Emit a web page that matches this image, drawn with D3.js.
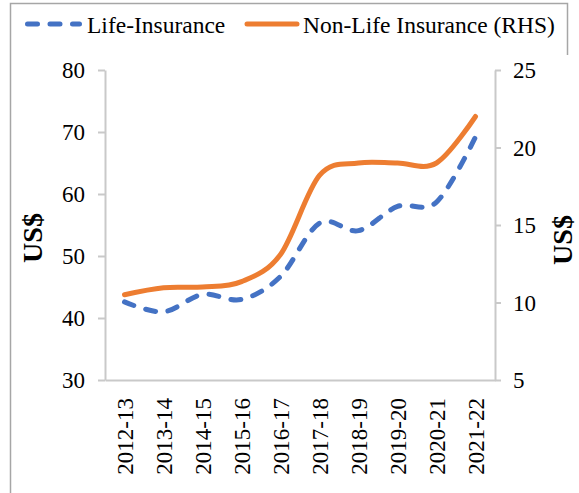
<!DOCTYPE html>
<html lang="en">

<head>
    <meta charset="UTF-8">
    <title>Insurance density</title>
    <script src="https://d3js.org/d3.v7.min.js"></script>
    <style>
        body {
            margin: 0;
            background: #fff;
        }

        svg text {
            font-family: 'Liberation Serif', 'Times New Roman', Tinos, 'DejaVu Serif', serif !important;
            fill: #000;
        }

        .tick-label {
            font-size: 23px;
        }

        .axis-title {
            font-size: 28px;
            font-weight: bold;
        }

        .legend-text {
            font-size: 23.5px;
        }
    </style>
</head>

<body>
    <script>
        // data
        const years = ["2012-13", "2013-14", "2014-15", "2015-16", "2016-17",
            "2017-18", "2018-19", "2019-20", "2020-21", "2021-22"];
        const lifeInsurance = [42.6, 41.0, 43.8, 43.0, 46.7, 55.3, 54.1, 58.0, 58.7, 69.2];
        const nonLifeInsurance = [10.5, 10.95, 11.0, 11.35, 13.1, 18.2, 19.0, 19.0, 19.0, 22.0];
        const leftTicks = [30, 40, 50, 60, 70, 80];
        const rightTicks = [5, 10, 15, 20, 25];

        const width = 579, height = 493;
        const plot = { left: 105, right: 495, top: 70, bottom: 380 };
        const blue = "#4472c4", orange = "#ed7d31", axisGrey = "#c9c9c9";
        const serif = "'Liberation Serif', 'Times New Roman', Tinos, 'DejaVu Serif', serif";
        const dash = "10,12.5";

        const svg = d3.select("body").append("svg")
            .attr("width", width)
            .attr("height", height)
            .style("font-family", serif);

        // outer frame (only top/left visible in the source)
        svg.append("path")
            .attr("d", "M10.5,500 V3.5 H567.5 V55")
            .attr("fill", "none")
            .attr("stroke", "#a6a6a6")
            .attr("stroke-width", 1.5);

        const x = d3.scaleBand()
            .domain(years)
            .range([plot.left, plot.right]);

        const yLeft = d3.scaleLinear().domain([30, 80]).range([plot.bottom, plot.top]);
        const yRight = d3.scaleLinear().domain([5, 25]).range([plot.bottom, plot.top]);

        // x axis
        const xAxis = svg.append("g")
            .attr("transform", "translate(0," + plot.bottom + ")")
            .call(d3.axisBottom(x).tickSize(0).tickSizeOuter(0));
        xAxis.attr("font-family", null);
        xAxis.select(".domain").attr("stroke", axisGrey).attr("stroke-width", 2);
        xAxis.selectAll("text")
            .attr("class", "tick-label")
            .attr("transform", "rotate(-90)")
            .attr("text-anchor", "end")
            .attr("x", -18)
            .attr("y", 0)
            .attr("dy", "0.35em");

        // left axis
        const leftAxis = svg.append("g")
            .attr("transform", "translate(" + plot.left + ",0)")
            .call(d3.axisLeft(yLeft).tickValues(leftTicks).tickSize(7).tickSizeOuter(0).tickPadding(13));
        leftAxis.attr("font-family", null);
        leftAxis.select(".domain").attr("stroke", axisGrey).attr("stroke-width", 2);
        leftAxis.selectAll(".tick line").attr("stroke", axisGrey).attr("stroke-width", 2);
        leftAxis.selectAll("text").attr("class", "tick-label").attr("dy", "0.33em");

        // right axis
        const rightAxis = svg.append("g")
            .attr("transform", "translate(" + plot.right + ",0)")
            .call(d3.axisRight(yRight).tickValues(rightTicks).tickSize(6).tickSizeOuter(0).tickPadding(12));
        rightAxis.attr("font-family", null);
        rightAxis.select(".domain").attr("stroke", axisGrey).attr("stroke-width", 2);
        rightAxis.selectAll(".tick line").attr("stroke", axisGrey).attr("stroke-width", 2);
        rightAxis.selectAll("text").attr("class", "tick-label").attr("dy", "0.33em");

        // axis titles
        svg.append("text")
            .attr("class", "axis-title")
            .attr("transform", "translate(42,238) rotate(-90)")
            .attr("text-anchor", "middle")
            .text("US$");
        svg.append("text")
            .attr("class", "axis-title")
            .attr("transform", "translate(572,240) rotate(-90)")
            .attr("text-anchor", "middle")
            .text("US$");

        // lines (Excel-like smoothing)
        const cx = d => x(d) + x.bandwidth() / 2;

        const lifeLine = d3.line()
            .x((d, i) => cx(years[i]))
            .y(d => yLeft(d))
            .curve(d3.curveCardinal.tension(0));

        const nonLifeLine = d3.line()
            .x((d, i) => cx(years[i]))
            .y(d => yRight(d))
            .curve(d3.curveCardinal.tension(0));

        svg.append("path")
            .datum(nonLifeInsurance)
            .attr("d", nonLifeLine)
            .attr("fill", "none")
            .attr("stroke", orange)
            .attr("stroke-width", 5)
            .attr("stroke-linecap", "round");

        svg.append("path")
            .datum(lifeInsurance)
            .attr("d", lifeLine)
            .attr("fill", "none")
            .attr("stroke", blue)
            .attr("stroke-width", 5)
            .attr("stroke-linecap", "round")
            .attr("stroke-dasharray", dash);

        // legend
        const legend = svg.append("g");
        legend.append("line")
            .attr("x1", 27.5).attr("x2", 79.5)
            .attr("y1", 24).attr("y2", 24)
            .attr("stroke", blue)
            .attr("stroke-width", 5)
            .attr("stroke-linecap", "round")
            .attr("stroke-dasharray", dash);
        legend.append("text")
            .attr("class", "legend-text")
            .attr("x", 87).attr("y", 33)
            .text("Life-Insurance");
        legend.append("line")
            .attr("x1", 247).attr("x2", 297)
            .attr("y1", 24).attr("y2", 24)
            .attr("stroke", orange)
            .attr("stroke-width", 5)
            .attr("stroke-linecap", "round");
        legend.append("text")
            .attr("class", "legend-text")
            .attr("x", 303).attr("y", 33)
            .text("Non-Life Insurance (RHS)");
    </script>
</body>

</html>
